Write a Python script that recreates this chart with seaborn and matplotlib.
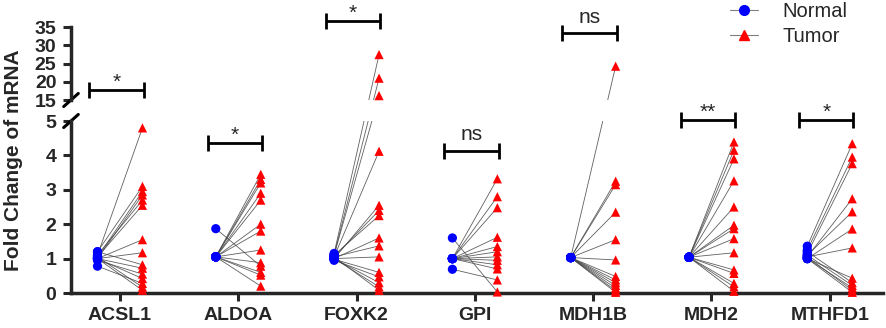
import numpy as np
import pandas as pd
import seaborn as sns
import matplotlib.pyplot as plt
from matplotlib.lines import Line2D

genes = ['ACSL1', 'ALDOA', 'FOXK2', 'GPI', 'MDH1B', 'MDH2', 'MTHFD1']
sig_labels = ['*', '*', '*', 'ns', 'ns', '**', '*']
sig_heights = [17.8, 4.37, 36.8, 4.14, 33.3, 5.38, 5.38]

# paired values (normal -> tumor)
acsl1_normal = [1.1, 1.2, 1.05, 1.0, 1.1, 1.05, 1.0, 1.0, 1.2, 1.0, 0.95, 1.0, 0.78, 1.05, 1.0]
acsl1_tumor = [4.8, 3.1, 2.95, 2.85, 2.7, 2.55, 1.55, 1.17, 0.82, 0.72, 0.55, 0.42, 0.28, 0.17, 0.08]
aldoa_normal = [1.05, 1.05, 1.05, 1.05, 1.05, 1.05, 1.05, 1.05, 1.05, 1.87, 1.05, 1.05, 1.05]
aldoa_tumor = [3.45, 3.3, 3.2, 2.9, 2.7, 2.0, 1.8, 1.25, 0.88, 0.78, 0.6, 0.52, 0.2]
foxk2_normal = [1.15, 1.1, 1.1, 1.05, 1.0, 1.05, 1.1, 1.0, 1.05, 1.0, 0.98, 0.95, 1.0, 1.0, 1.05]
foxk2_tumor = [27.5, 21.0, 16.2, 4.12, 2.55, 2.4, 2.25, 1.6, 1.37, 1.05, 0.6, 0.47, 0.3, 0.18, 0.08]
gpi_normal = [1.0, 1.0, 1.0, 1.0, 1.0, 1.0, 1.0, 1.0, 1.0, 1.0, 0.69, 1.6]
gpi_tumor = [3.32, 2.8, 2.48, 1.62, 1.35, 1.2, 1.05, 0.95, 0.82, 0.7, 0.38, 0.03]
mdh1b_normal = [1.03] * 13
mdh1b_tumor = [24.3, 3.25, 3.15, 2.35, 1.55, 0.96, 0.48, 0.38, 0.3, 0.22, 0.14, 0.07, 0.02]
mdh2_normal = [1.04] * 14
mdh2_tumor = [4.39, 4.15, 3.9, 3.26, 2.5, 1.97, 1.87, 1.58, 1.17, 0.67, 0.57, 0.28, 0.18, 0.05]
mthfd1_normal = [1.36, 1.25, 1.15, 1.05, 1.1, 1.0, 1.05, 1.0, 1.2, 1.1, 1.0, 1.05, 1.0]
mthfd1_tumor = [4.34, 3.95, 3.76, 2.74, 2.36, 1.86, 1.31, 0.43, 0.3, 0.22, 0.15, 0.08, 0.02]

normal_values = [acsl1_normal, aldoa_normal, foxk2_normal, gpi_normal,
                 mdh1b_normal, mdh2_normal, mthfd1_normal]
tumor_values = [acsl1_tumor, aldoa_tumor, foxk2_tumor, gpi_tumor,
                mdh1b_tumor, mdh2_tumor, mthfd1_tumor]

rows = []
for i, (g, nv, tv) in enumerate(zip(genes, normal_values, tumor_values)):
    for k, (n, t) in enumerate(zip(nv, tv)):
        pair = f'{g}_{k}'
        rows.append(dict(gene=g, pair=pair, group='Normal', x=i - 0.19, value=n))
        rows.append(dict(gene=g, pair=pair, group='Tumor', x=i + 0.19, value=t))
df = pd.DataFrame(rows)

# piecewise scale so lines stay straight across the broken axis
# (lower part 34.4 px/unit, gap of 21 px, upper part 3.635 px/unit)
GAP = 21 / 34.4
R = 3.635 / 34.4


def fwd(v):
    v = np.asarray(v, dtype=float)
    return np.where(v <= 5, v, np.where(v < 15, 5 + (v - 5) * GAP / 10, 5 + GAP + (v - 15) * R))


def inv(u):
    u = np.asarray(u, dtype=float)
    return np.where(u <= 5, u, np.where(u < 5 + GAP, 5 + (u - 5) * 10 / GAP, 15 + (u - 5 - GAP) / R))


sns.set_style('ticks')
plt.rcParams['font.family'] = ['Liberation Sans', 'DejaVu Sans']

W, H = 886, 328
fig = plt.figure(figsize=(W / 100, H / 100), dpi=100)
ax_top = fig.add_axes([71 / W, (H - 100) / H, 812 / W, 72.7 / H])
ax_bot = fig.add_axes([71 / W, (H - 293) / H, 812 / W, 172 / H])

palette = {'Normal': '#0000ff', 'Tumor': '#ff0000'}
markers = {'Normal': 'o', 'Tumor': '^'}

for ax, lo, hi in [(ax_top, 14, 40), (ax_bot, -1, 5.6)]:
    ax.set_yscale('function', functions=(fwd, inv))
    sns.lineplot(data=df, x='x', y='value', units='pair', estimator=None,
                 color='#444444', lw=0.6, alpha=0.85, ax=ax, legend=False)
    sub = df[(df['value'] >= lo) & (df['value'] <= hi)]
    sns.scatterplot(data=sub, x='x', y='value', hue='group', style='group',
                    palette=palette, markers=markers, s=44, linewidth=0,
                    ax=ax, legend=False, zorder=3, clip_on=False)
    ax.set_xlim(-0.414, 6.45)
    ax.set_xlabel('')
    ax.set_ylabel('')
    for s in ['top', 'right']:
        ax.spines[s].set_visible(False)
    for s in ['left', 'bottom']:
        ax.spines[s].set_linewidth(2.5)
    ax.tick_params(axis='both', width=2.2, length=5.5, labelsize=14, pad=5)
    ax.minorticks_off()

ax_top.set_ylim(15, 35)
ax_top.set_yticks([15, 20, 25, 30, 35])
ax_top.set_yticklabels(['15', '20', '25', '30', '35'])
ax_top.spines['bottom'].set_visible(False)
ax_top.set_xticks([])

ax_bot.set_ylim(0, 5)
ax_bot.set_yticks([0, 1, 2, 3, 4, 5])
ax_bot.set_yticklabels(['0', '1', '2', '3', '4', '5'])
ax_bot.set_xticks(range(len(genes)))
ax_bot.set_xticklabels(genes)
ax_bot.tick_params(axis='x', labelsize=14, pad=4, length=6)

for ax in (ax_top, ax_bot):
    for lab in ax.get_xticklabels() + ax.get_yticklabels():
        lab.set_fontweight('bold')

# axis break marks
kw = dict(color='black', lw=2.2, clip_on=False)
ax_top.plot([-0.009, 0.009], [-0.09, 0.09], transform=ax_top.transAxes, **kw)
ax_bot.plot([-0.009, 0.009], [1 - 0.038, 1 + 0.038], transform=ax_bot.transAxes, **kw)

# significance brackets
for i, (lab, h) in enumerate(zip(sig_labels, sig_heights)):
    ax = ax_top if h >= 10 else ax_bot
    x0, x1 = i - 0.26, i + 0.2
    ax.plot([x0, x1], [h, h], color='black', lw=2, marker='|', ms=11, mew=2,
            clip_on=False, solid_capstyle='butt')
    off = 7.5 if lab == 'ns' else 1.5
    ax.annotate(lab, ((x0 + x1) / 2, h), xytext=(0, off), textcoords='offset points',
                ha='center', va='baseline', fontsize=15, annotation_clip=False)

fig.text(14 / W, 0.512, 'Fold Change of mRNA', rotation=90, ha='center', va='center',
         fontsize=15, fontweight='bold')

handles = [
    Line2D([], [], color='gray', lw=0.8, marker='o', markerfacecolor='#0000ff',
           markeredgecolor='#0000ff', ms=7),
    Line2D([], [], color='gray', lw=0.8, marker='^', markerfacecolor='#ff0000',
           markeredgecolor='#ff0000', ms=7),
]
fig.legend(handles, ['Normal', 'Tumor'], loc='upper left',
           bbox_to_anchor=(730 / W, 1 - 2 / H),
           frameon=False, fontsize=14.5, handlelength=1.4, handletextpad=1.2,
           labelspacing=0.3, borderpad=0, borderaxespad=0)

fig.savefig('out.png', dpi=100)
